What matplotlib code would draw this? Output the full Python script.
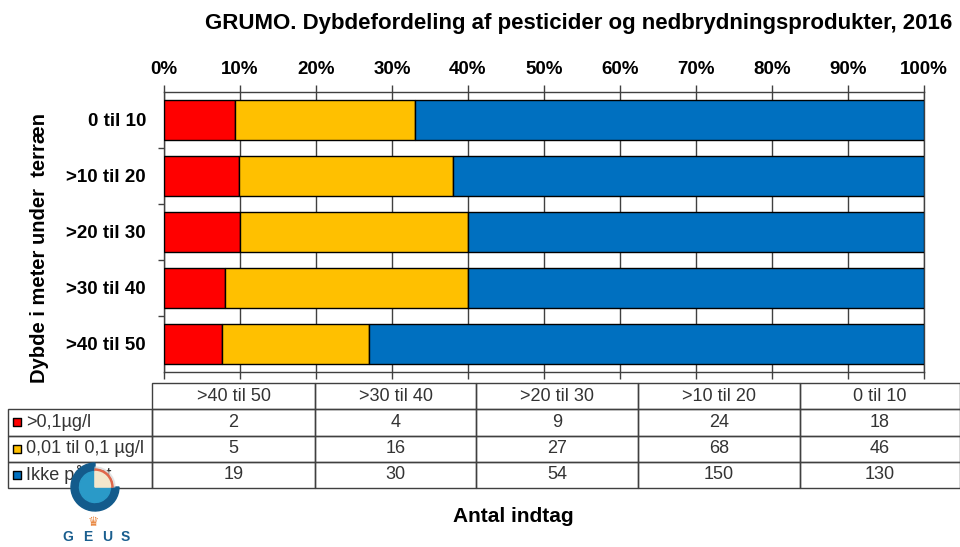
import matplotlib
matplotlib.use("Agg")
import matplotlib.pyplot as plt
import numpy as np
from matplotlib.table import Table
from matplotlib.ticker import PercentFormatter
from matplotlib.patches import Wedge

plt.rcParams['font.family'] = ['Liberation Sans', 'DejaVu Sans']

# data (counts per depth interval)
depths = ['0 til 10', '>10 til 20', '>20 til 30', '>30 til 40', '>40 til 50']
series = ['>0,1µg/l', '0,01 til 0,1 µg/l', 'Ikke påvist']
above_01 = [18, 24, 9, 4, 2]
between = [46, 68, 27, 16, 5]
not_found = [130, 150, 54, 30, 19]
colors = ['#FF0000', '#FFC000', '#0070C0']

W, H = 960, 547
fig = plt.figure(figsize=(W / 100, H / 100), dpi=100)


def px_axes(x0, y0, x1, y1):
    """ pixel box (y counted from top) -> figure fraction rect
    """
    return [x0 / W, 1 - y1 / H, (x1 - x0) / W, (y1 - y0) / H]


ax = fig.add_axes(px_axes(164, 92, 924, 372))

counts = np.array([above_01, between, not_found], dtype=float)
pct = counts / counts.sum(axis=0) * 100
ypos = np.arange(len(depths))
left = np.zeros(len(depths))
for k in range(len(series)):
    ax.barh(ypos, pct[k], left=left, height=0.73, color=colors[k],
            edgecolor='black', linewidth=1, zorder=3)
    left += pct[k]

ax.set_xlim(0, 100)
ax.set_ylim(len(depths) - 0.5, -0.5)
ax.set_xticks(np.arange(0, 101, 10))
ax.xaxis.set_major_formatter(PercentFormatter(decimals=0))
ax.xaxis.tick_top()
ax.tick_params(axis='x', which='both', top=True, bottom=True, direction='out',
               length=5, width=1, color='#404040', pad=5,
               labelsize=13.5)
for lab in ax.get_xticklabels():
    lab.set_fontweight('bold')
ax.grid(axis='x', color='#404040', linewidth=1, zorder=1)

# category boundaries as ticks, names as minor ticks
ax.set_yticks(np.arange(len(depths) - 1) + 0.5)
ax.set_yticklabels([])
ax.tick_params(axis='y', which='major', length=4, width=1, color='#404040')
ax.set_yticks(ypos, minor=True)
ax.set_yticklabels(depths, minor=True, fontsize=13.5, fontweight='bold')
ax.tick_params(axis='y', which='minor', length=0, pad=13)
for sp in ax.spines.values():
    sp.set_color('#404040')
    sp.set_linewidth(1)

fig.text(579 / W, 1 - 23 / H, 'GRUMO. Dybdefordeling af pesticider og nedbrydningsprodukter, 2016',
         ha='center', va='center', fontsize=16, fontweight='bold')
fig.text(40 / W, 1 - 248 / H, 'Dybde i meter under  terræn', rotation=90,
         ha='center', va='center', fontsize=14.5, fontweight='bold')
fig.text(513 / W, 1 - 517 / H, 'Antal indtag', ha='center', va='center',
         fontsize=15, fontweight='bold')

# data table
axt = fig.add_axes(px_axes(8, 383, 960, 488))
axt.axis('off')
tbl = Table(axt, bbox=[0, 0, 1, 1])
col_w = [144, 163, 161, 162, 162, 160]
rev_depths = depths[::-1]
rows = [[series[k]] + [str(int(v)) for v in counts[k][::-1]] for k in range(len(series))]
header = [''] + rev_depths
nrows = len(rows) + 1
for r in range(nrows):
    for c in range(len(col_w)):
        txt = header[c] if r == 0 else rows[r - 1][c]
        loc = 'left' if c == 0 else 'center'
        cell = tbl.add_cell(r, c, width=col_w[c], height=1, text=txt, loc=loc,
                            edgecolor='#404040', facecolor='none')
        cell.set_linewidth(1)
        cell.get_text().set_color('#333333')
        cell.get_text().set_fontsize(13)
        if c == 0:
            cell.PAD = 0.125
        if r == 0 and c == 0:
            cell.visible_edges = 'open'
tbl.auto_set_font_size(False)
axt.add_table(tbl)
for k in range(len(series)):
    axt.scatter([(17 - 8) / 952], [1 - (k + 1.5) / nrows], s=36, marker='s',
                color=colors[k], edgecolor='black', linewidth=1,
                transform=axt.transAxes, zorder=5, clip_on=False)

# GEUS logo
axl = fig.add_axes([0, 0, 1, 1])
axl.set_xlim(0, W)
axl.set_ylim(H, 0)
axl.axis('off')
cx, cy = 95, 487
axl.add_patch(Wedge((cx, cy), 24, 0, 270, width=9, color='#135B8C', zorder=2))
axl.add_patch(Wedge((cx, cy), 15.5, 0, 270, color='#2A9AC8', zorder=2))
axl.add_patch(Wedge((cx, cy), 20, 270, 360, color='#D9D9D9', alpha=0.6, zorder=2))
axl.add_patch(Wedge((cx, cy), 18, 270, 360, width=2, color='#E0664A', zorder=3))
axl.add_patch(Wedge((cx, cy), 15.5, 270, 360, color='#F3E7CC', zorder=3))
axl.text(93, 522, '♛', ha='center', va='center', fontsize=9, color='#E8833A',
         family=['DejaVu Sans'])
for letter, lx in zip('GEUS', [68, 88, 107, 125]):
    axl.text(lx, 537, letter, ha='center', va='center', fontsize=10,
             fontweight='bold', color='#1A5E8E')

fig.savefig('out.png', dpi=100)
